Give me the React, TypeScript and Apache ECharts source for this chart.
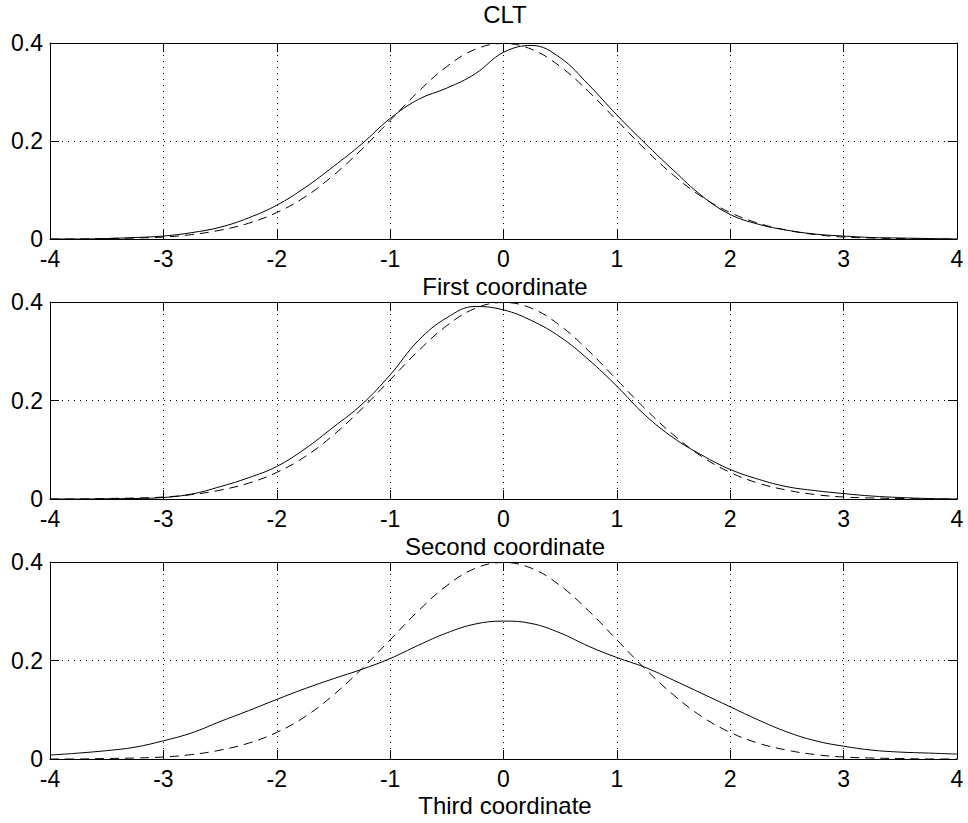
import React, { useEffect, useRef } from "react";
import * as echarts from "echarts";

const CHART_TITLE = "CLT";
const PANEL_TITLES = ["First coordinate", "Second coordinate", "Third coordinate"];

const X_VALUES = [-4, -3.75, -3.5, -3.25, -3, -2.75, -2.5, -2.25, -2, -1.75, -1.5, -1.25, -1, -0.75, -0.5, -0.25, 0, 0.25, 0.5, 0.75, 1, 1.25, 1.5, 1.75, 2, 2.25, 2.5, 2.75, 3, 3.25, 3.5, 3.75, 4];

// dashed reference curve (standard normal density)
const NORMAL_REF = [0.0, 0.0, 0.001, 0.002, 0.004, 0.009, 0.018, 0.032, 0.054, 0.086, 0.13, 0.183, 0.242, 0.301, 0.352, 0.387, 0.399, 0.387, 0.352, 0.301, 0.242, 0.183, 0.13, 0.086, 0.054, 0.032, 0.018, 0.009, 0.004, 0.002, 0.001, 0.0, 0.0];

const FIRST_COORD = [0.0, 0.0, 0.001, 0.003, 0.006, 0.013, 0.024, 0.043, 0.069, 0.105, 0.148, 0.194, 0.246, 0.285, 0.308, 0.337, 0.381, 0.395, 0.37, 0.315, 0.253, 0.195, 0.14, 0.088, 0.05, 0.03, 0.018, 0.01, 0.006, 0.003, 0.002, 0.001, 0.0];

const SECOND_COORD = [0.0, 0.0, 0.0005, 0.001, 0.003, 0.01, 0.025, 0.043, 0.066, 0.102, 0.146, 0.192, 0.252, 0.322, 0.368, 0.391, 0.384, 0.362, 0.329, 0.283, 0.229, 0.17, 0.124, 0.089, 0.06, 0.04, 0.025, 0.017, 0.011, 0.006, 0.003, 0.001, 0.0];

const THIRD_COORD = [0.008, 0.012, 0.017, 0.024, 0.037, 0.053, 0.076, 0.098, 0.121, 0.143, 0.163, 0.182, 0.204, 0.231, 0.256, 0.274, 0.28, 0.275, 0.256, 0.229, 0.206, 0.186, 0.16, 0.133, 0.106, 0.079, 0.055, 0.037, 0.026, 0.018, 0.014, 0.012, 0.01];

const X_MIN = -4;
const X_MAX = 4;
const X_STEP = 1;
const Y_MIN = 0;
const Y_MAX = 0.4;
const Y_STEP = 0.2;

const FONT = "Liberation Sans, Arial, Helvetica, sans-serif";

export default function App() {
  const ref = useRef<HTMLDivElement>(null);

  useEffect(() => {
    if (!ref.current) return;
    const chart = echarts.init(ref.current, undefined, { renderer: "svg" });

    const panels = [FIRST_COORD, SECOND_COORD, THIRD_COORD];
    const grids = [
      { left: 50, width: 907, top: 43, height: 196 },
      { left: 50, width: 907, top: 302, height: 197 },
      { left: 50, width: 907, top: 562, height: 197 },
    ];
    const titleY = [286.5, 546.5, 805];

    const xAxes: any[] = [];
    const yAxes: any[] = [];
    const series: any[] = [];

    panels.forEach((vals, i) => {
      const lineCommon = { show: true, lineStyle: { color: "#000", width: 1 } };
      xAxes.push({
        type: "value",
        gridIndex: i,
        min: X_MIN,
        max: X_MAX,
        interval: X_STEP,
        position: "bottom",
        axisLine: { ...lineCommon, onZero: false },
        axisTick: { show: true, inside: true, length: 9, lineStyle: { color: "#000" } },
        axisLabel: { show: true, color: "#000", fontSize: 23, lineHeight: 18, fontFamily: FONT, margin: 11 },
        splitLine: { show: true, lineStyle: { color: "#000", width: 1, type: [1, 5] } },
      });
      xAxes.push({
        type: "value",
        gridIndex: i,
        min: X_MIN,
        max: X_MAX,
        interval: X_STEP,
        position: "top",
        axisLine: { ...lineCommon, onZero: false },
        axisTick: { show: true, inside: true, length: 9, lineStyle: { color: "#000" } },
        axisLabel: { show: false },
        splitLine: { show: false },
      });
      yAxes.push({
        type: "value",
        gridIndex: i,
        min: Y_MIN,
        max: Y_MAX,
        interval: Y_STEP,
        position: "left",
        axisLine: { ...lineCommon, onZero: false },
        axisTick: { show: true, inside: true, length: 9, lineStyle: { color: "#000" } },
        axisLabel: { show: true, color: "#000", fontSize: 23, lineHeight: 18, fontFamily: FONT, margin: 7 },
        splitLine: { show: true, lineStyle: { color: "#000", width: 1, type: [1, 5] } },
      });
      yAxes.push({
        type: "value",
        gridIndex: i,
        min: Y_MIN,
        max: Y_MAX,
        interval: Y_STEP,
        position: "right",
        axisLine: { ...lineCommon, onZero: false },
        axisTick: { show: true, inside: true, length: 9, lineStyle: { color: "#000" } },
        axisLabel: { show: false },
        splitLine: { show: false },
      });

      series.push({
        type: "line",
        xAxisIndex: i * 2,
        yAxisIndex: i * 2,
        data: X_VALUES.map((x, k) => [x, vals[k]]),
        smooth: 0.4,
        symbol: "none",
        lineStyle: { color: "#000", width: 1, type: "solid" },
        z: 3,
      });
      series.push({
        type: "line",
        xAxisIndex: i * 2,
        yAxisIndex: i * 2,
        data: X_VALUES.map((x, k) => [x, NORMAL_REF[k]]),
        smooth: 0.4,
        symbol: "none",
        lineStyle: { color: "#000", width: 1, type: [9, 6] },
        z: 2,
      });
    });

    const graphics: any[] = [
      {
        type: "text",
        x: 505,
        y: 14.7,
        style: { text: CHART_TITLE, font: `24px ${FONT}`, lineHeight: 20, fill: "#000", align: "center", verticalAlign: "middle" },
      },
      ...PANEL_TITLES.map((t, i) => ({
        type: "text",
        x: 505,
        y: titleY[i],
        style: { text: t, font: `24px ${FONT}`, lineHeight: 20, fill: "#000", align: "center", verticalAlign: "middle" },
      })),
    ];

    chart.setOption({
      animation: false,
      backgroundColor: "#fff",
      grid: grids.map((g) => ({ ...g, containLabel: false })),
      xAxis: xAxes,
      yAxis: yAxes,
      series,
      graphic: graphics,
    });

    return () => chart.dispose();
  }, []);

  return (
    <div
      ref={ref}
      style={{ position: "fixed", left: 0, top: 0, width: 968, height: 823, background: "#fff" }}
    />
  );
}
